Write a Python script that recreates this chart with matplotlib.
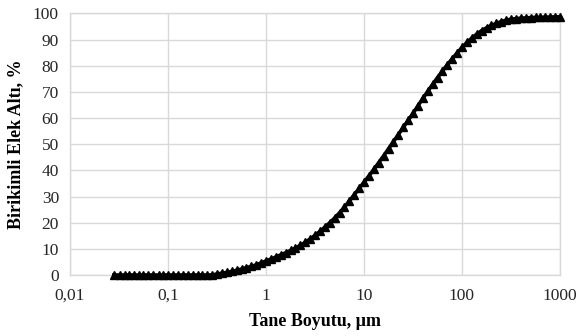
import matplotlib
matplotlib.use("Agg")
import matplotlib.pyplot as plt

# Particle size (µm) and cumulative undersize (%)
sizes = [0.028, 0.032, 0.036, 0.040, 0.045, 0.050, 0.056, 0.063, 0.071, 0.080,
         0.089, 0.100, 0.112, 0.126, 0.142, 0.159, 0.178, 0.200, 0.224, 0.252,
         0.283, 0.317, 0.356, 0.399, 0.448, 0.502, 0.564, 0.632, 0.710, 0.796,
         0.893, 1.002, 1.125, 1.262, 1.416, 1.589, 1.783, 2.000, 2.244, 2.518,
         2.825, 3.170, 3.557, 3.991, 4.477, 5.024, 5.637, 6.325, 7.096, 7.962,
         8.934, 10.02, 11.25, 12.62, 14.16, 15.89, 17.83, 20.00, 22.44, 25.18,
         28.25, 31.70, 35.57, 39.91, 44.77, 50.24, 56.37, 63.25, 70.96, 79.62,
         89.34, 100.2, 112.5, 126.2, 141.6, 158.9, 178.3, 200.0, 224.4, 251.8,
         282.5, 317.0, 355.7, 399.1, 447.7, 502.4, 563.7, 632.5, 709.6, 796.2,
         893.4, 1002.0]
passing = [0.0, 0.0, 0.0, 0.0, 0.0, 0.0, 0.0, 0.0, 0.0, 0.0,
           0.0, 0.0, 0.0, 0.0, 0.0, 0.0, 0.0, 0.0, 0.0, 0.0,
           0.05, 0.4, 0.7, 1.0, 1.4, 1.8, 2.3, 2.8, 3.3, 3.9,
           4.6, 5.4, 6.1, 6.9, 7.7, 8.5, 9.4, 10.3, 11.3, 12.5,
           13.8, 15.2, 16.7, 18.3, 20.0, 21.8, 23.8, 26.0, 28.3, 30.7,
           33.1, 35.5, 37.9, 40.4, 43.0, 45.6, 48.3, 51.0, 53.7, 56.4,
           59.1, 61.8, 64.7, 67.5, 70.2, 72.9, 75.5, 78.0, 80.4, 82.7,
           84.9, 87.0, 88.9, 90.6, 92.1, 93.4, 94.5, 95.4, 96.2, 96.9,
           97.4, 97.8, 98.0, 98.2, 98.3, 98.4, 98.5, 98.5, 98.6, 98.6,
           98.7, 98.7]

x_ticks = [0.01, 0.1, 1, 10, 100, 1000]
x_tick_labels = ["0,01", "0,1", "1", "10", "100", "1000"]
y_ticks = [0, 10, 20, 30, 40, 50, 60, 70, 80, 90, 100]

plt.rcParams["font.family"] = ["Liberation Serif", "DejaVu Serif"]

fig = plt.figure(figsize=(5.79, 3.36), dpi=100)
ax = fig.add_axes([0.121, 0.1815, 0.846, 0.7785])

ax.plot(sizes, passing, color="black", lw=2.6, marker="^", markersize=5.5,
        markerfacecolor="black", markeredgecolor="black", clip_on=False, zorder=3)

ax.set_xscale("log")
ax.set_xlim(0.01, 1000)
ax.set_ylim(0, 100)
ax.set_xticks(x_ticks)
ax.set_xticklabels(x_tick_labels)
ax.xaxis.set_minor_locator(matplotlib.ticker.NullLocator())
ax.set_yticks(y_ticks)

ax.grid(True, which="major", color="#d9d9d9", lw=1.0)
ax.set_axisbelow(True)
for s in ax.spines.values():
    s.set_color("#d9d9d9")
    s.set_linewidth(1.0)
ax.tick_params(length=0, labelsize=12.5, colors="#262626")
ax.tick_params(axis="x", pad=9)
ax.tick_params(axis="y", pad=8)

ax.set_xlabel("Tane Boyutu, µm", fontsize=13, fontweight="bold", labelpad=7)
ax.set_ylabel("Birikimli Elek Altı, %", fontsize=13, fontweight="bold", labelpad=6)

fig.savefig("out.png", dpi=100)
